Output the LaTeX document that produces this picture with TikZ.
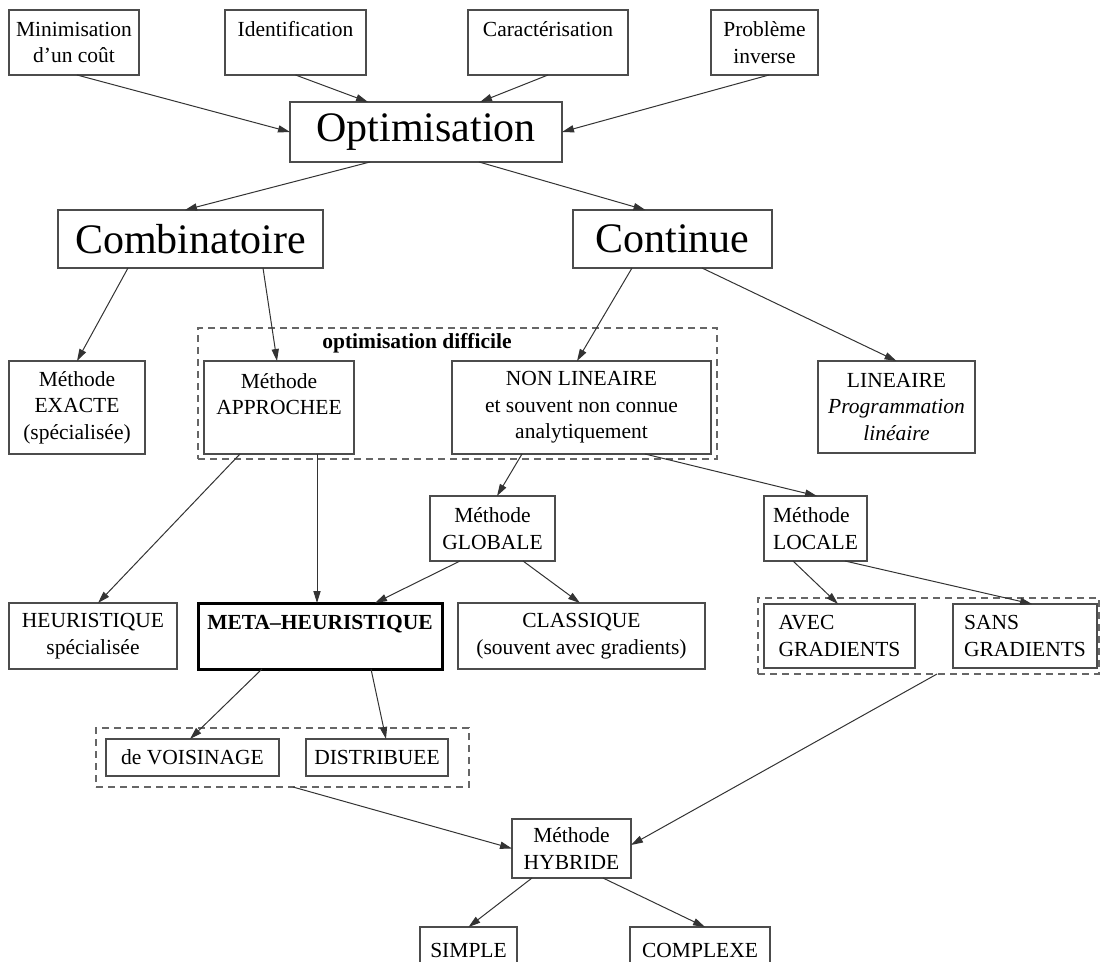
\documentclass[tikz,border=0pt]{standalone}
\usepackage{fontspec}
\setmainfont{Liberation Serif}
\usetikzlibrary{arrows.meta,calc}
\begin{document}
\begin{tikzpicture}[x=0.5pt,y=-0.5pt,
  every node/.style={inner sep=0pt, outer sep=0pt},
  txt/.style={font=\fontsize{10.75}{13.25}\selectfont, align=center, text=black},
  box/.style={txt, draw=black!70, line width=0.6pt, rectangle},
  sz/.style 2 args={minimum width=#1*0.5pt, minimum height=#2*0.5pt},
  bigtxt/.style={font=\fontsize{21}{25}\selectfont},
  grp/.style={draw=black!60, line width=0.6pt, dash pattern=on 3.5pt off 2.5pt},
  arr/.style={draw=black!80, line width=0.5pt, -{Triangle[length=6pt,width=3.6pt]}},
]
\useasboundingbox (0,0) rectangle (1101,962);

% top row
\node[box, sz={130}{65}] (mini) at (74,42.5) {Minimisation\\d'un coût};
\node[box, sz={141}{65}] (ident) at (295.5,42.5) {Identification\\\mbox{}};
\node[box, sz={160}{65}] (cara) at (548,42.5) {Caractérisation\\\mbox{}};
\node[box, sz={107}{65}] (prob) at (764.5,42.5) {Problème\\inverse};
\node[box, bigtxt, sz={272}{60}] (opt) at (426,132) {Optimisation};
\node[box, bigtxt, sz={265}{58}] (comb) at (190.5,239) {Combinatoire};
\node[box, bigtxt, sz={199}{58}] (cont) at (672.5,239) {Continue};

% dashed groups
\node[grp, sz={519}{131}] (g1) at (457.5,393.5) {};
\node[txt, font=\fontsize{10.75}{13.25}\selectfont\bfseries] (g1lab) at (417,343) {optimisation difficile};
\node[grp, sz={341}{76}] (g3) at (928.5,636) {};
\node[grp, sz={373}{59}] (g2) at (282.5,757.5) {};

% row 3
\node[box, sz={136}{93}] (exacte) at (77,407.5) {Méthode\\EXACTE\\(spécialisée)};
\node[box, sz={150}{93}] (appro) at (279,407.5) {Méthode\\APPROCHEE\\\mbox{}};
\node[box, sz={259}{93}] (nonlin) at (581.5,407.5) {NON LINEAIRE\\et souvent non connue\\analytiquement};
\node[box, sz={157}{92}] (lin) at (896.5,407) {LINEAIRE\\\textit{Programmation}\\\textit{linéaire}};

% row 4
\node[box, sz={125}{65}] (glob) at (492.5,528.5) {Méthode\\GLOBALE};
\node[box, sz={103}{65}, align=left] (loc) at (815.5,528.5) {Méthode\\LOCALE};

% row 5
\node[box, sz={168}{66}] (heur) at (93,636) {HEURISTIQUE\\spécialisée};
\node[box, sz={244}{66}, line width=1.5pt, draw=black] (meta) at (320,636) {\textbf{META--HEURISTIQUE}\\\mbox{}};
\node[box, sz={247}{66}] (clas) at (581.5,636) {CLASSIQUE\\(souvent avec gradients)};
\node[box, sz={151}{64}, align=left] (avec) at (839.5,636) {AVEC\\GRADIENTS};
\node[box, sz={144}{64}, align=left] (sans) at (1025,636) {SANS\\GRADIENTS};

% row 6
\node[box, sz={173}{37}] (vois) at (192.5,757.5) {de VOISINAGE};
\node[box, sz={142}{37}] (dist) at (377,757.5) {DISTRIBUEE};

% bottom
\node[box, sz={119}{59}] (hyb) at (571.5,848.5) {Méthode\\HYBRIDE};
\node[box, sz={97}{46}] (simp) at (468.5,950) {SIMPLE};
\node[box, sz={140}{46}] (comp) at (700,950) {COMPLEXE};

% connectors
\draw[arr] ($(mini.south)+(3,0)$) -- (opt.west);
\draw[arr] (ident.south) -- ($(opt.north)+(-58,0)$);
\draw[arr] (cara.south) -- ($(opt.north)+(54,0)$);
\draw[arr] ($(prob.south)+(4.5,0)$) -- (opt.east);
\draw[arr] ($(opt.south)+(-56,0)$) -- ($(comb.north)+(-5.5,0)$);
\draw[arr] ($(opt.south)+(53,0)$) -- ($(cont.north)+(-27,0)$);
\draw[arr] ($(comb.south)+(-62.5,0)$) -- (exacte.north);
\draw[arr] ($(comb.south)+(72.5,0)$) -- ($(appro.north)+(-2,0)$);
\draw[arr] ($(cont.south)+(-40.5,0)$) -- ($(nonlin.north)+(-4.5,0)$);
\draw[arr] ($(cont.south)+(29.5,0)$) -- (lin.north);
\draw[arr] ($(nonlin.south)+(-59.5,0)$) -- ($(glob.north)+(4.5,0)$);
\draw[arr] ($(nonlin.south)+(63.5,0)$) -- ($(loc.north)+(1.5,0)$);
\draw[arr] ($(appro.south)+(-39,0)$) -- ($(heur.north)+(5,0)$);
\draw[arr] ($(appro.south)+(38,0)$) -- ($(meta.north)+(-3,0)$);
\draw[arr] ($(glob.south)+(-32.5,0)$) -- ($(meta.north)+(55,0)$);
\draw[arr] ($(glob.south)+(30.5,0)$) -- ($(clas.north)+(-1.5,0)$);
\draw[arr] ($(loc.south)+(-22.5,0)$) -- ($(avec.north)+(-1.5,0)$);
\draw[arr] ($(loc.south)+(29.5,0)$) -- ($(sans.north)+(7,0)$);
\draw[arr] ($(meta.south)+(-58,0)$) -- ($(vois.north)+(-2.5,0)$);
\draw[arr] ($(meta.south)+(51,0)$) -- ($(dist.north)+(9,0)$);
\draw[arr] ($(g2.south)+(10.5,0)$) -- (hyb.west);
\draw[arr] ($(g3.south)+(8.5,0)$) -- ($(hyb.east)+(0,-3.5)$);
\draw[arr] ($(hyb.south)+(-39.5,0)$) -- (simp.north);
\draw[arr] ($(hyb.south)+(31.5,0)$) -- ($(comp.north)+(5,0)$);
\end{tikzpicture}
\end{document}
